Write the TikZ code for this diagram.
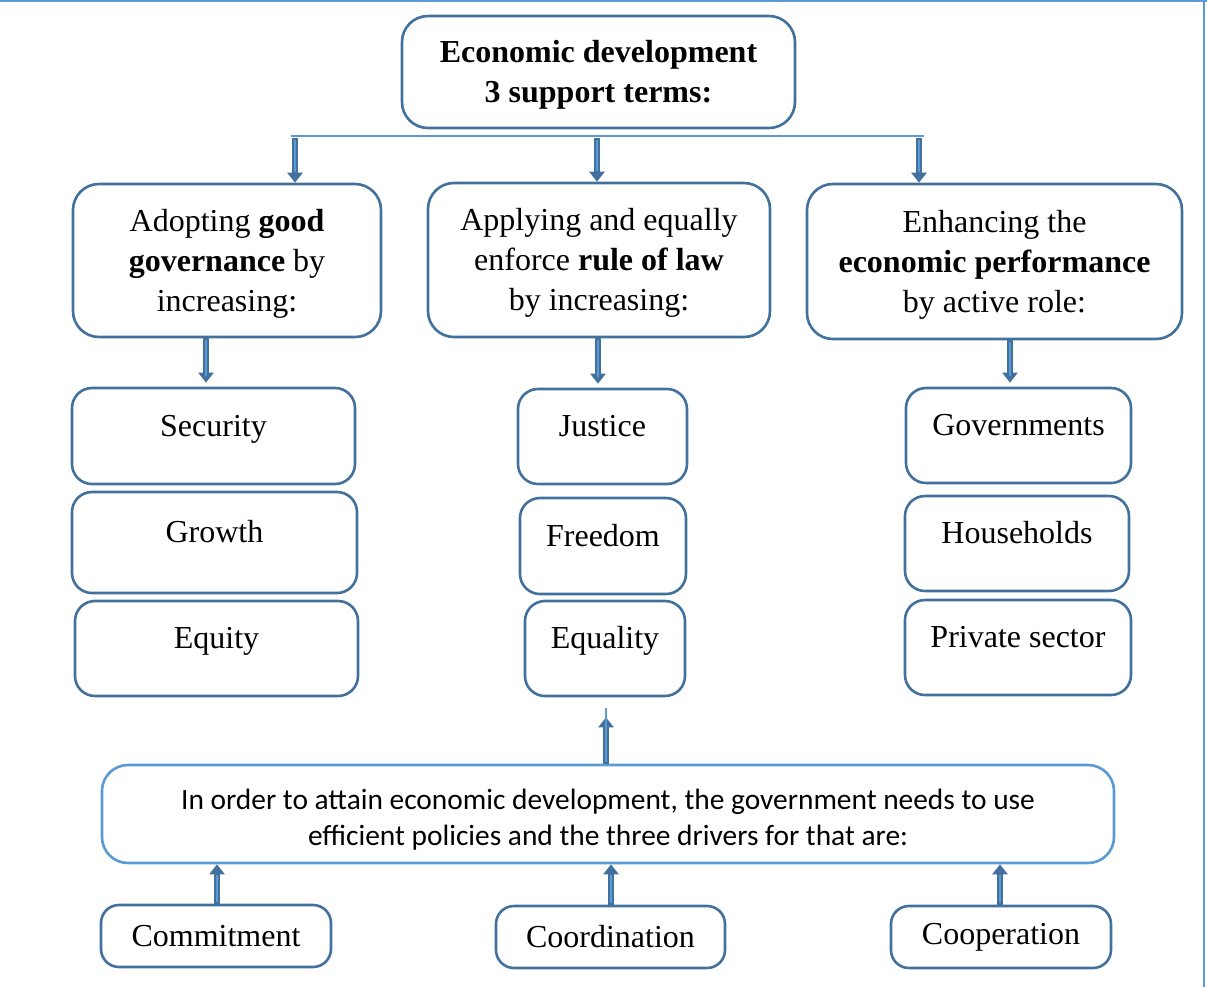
\documentclass[tikz,border=0pt]{standalone}
\usepackage{fontspec}
\setmainfont{Liberation Serif}[BoldFont={Liberation Serif Bold},ItalicFont={Liberation Serif Italic}]
\newfontfamily\driverfont{Carlito}
\usetikzlibrary{arrows.meta}
\definecolor{boxline}{RGB}{65,113,156}
\definecolor{lightline}{RGB}{91,155,213}
\tikzset{
  box/.style={draw=boxline, line width=1.3pt, rounded corners=13pt, align=center,
    font=\fontsize{16}{20}\selectfont, inner sep=0pt},
  leaf/.style={box, rounded corners=10pt, text height=11pt, text depth=11pt},
  driver/.style={box, rounded corners=9pt, minimum height=31pt},
  busline/.style={draw=lightline, line width=1.2pt},
  pageline/.style={draw=lightline, line width=0.8pt},
  barrow/.style={draw=boxline, line width=3.2pt, -{Triangle[width=7.5pt,length=5pt]},
    postaction={draw=lightline, line width=1.2pt, -, shorten >=5.5pt, shorten <=0.8pt}}
}
\begin{document}
\begin{tikzpicture}[x=0.5pt,y=-0.5pt]
\useasboundingbox (0,0) rectangle (1207,987);
\draw[pageline] (0,1) -- (1207,1);
\draw[pageline] (1204,0) -- (1204,987);

% top
\node[box, font=\fontsize{16}{20}\selectfont\bfseries, minimum width=196.5pt, minimum height=56pt]
  (top) at (598.5,72) {\rule{0pt}{14pt}Economic development\\3 support terms:};
\coordinate (busL) at (291,136);
\coordinate (busR) at (924,136);
\draw[busline] (busL) -- (busR);

% three terms
\node[box, minimum width=154pt, minimum height=76.5pt] (gov) at (227,260.5)
  {\rule{0pt}{14pt}Adopting \textbf{good}\\\textbf{governance} by\\increasing:};
\node[box, minimum width=171pt, minimum height=77pt] (law) at (599,260)
  {\rule{0pt}{14pt}Applying and equally\\enforce \textbf{rule of law}\\by increasing:};
\node[box, minimum width=187.5pt, minimum height=77.5pt] (eco) at (994.5,261.5)
  {\rule{0pt}{14pt}Enhancing the\\\textbf{economic performance}\\by active role:};

\coordinate (tg) at (295,138);
\coordinate (tl) at (597,138);
\coordinate (te) at (919,138);
\draw[barrow] (tg) -- (tg |- gov.north);
\draw[barrow] (tl) -- (tl |- law.north);
\draw[barrow] (te) -- (te |- eco.north);

% increasing
\node[leaf, minimum width=141.5pt, minimum height=48pt] (sec) at (213.5,436) {Security};
\node[leaf, minimum width=142.5pt, minimum height=50.5pt] (gro) at (214.5,542.5) {Growth};
\node[leaf, minimum width=141.5pt, minimum height=47.5pt] (equ) at (216.5,648.5) {Equity};
\node[leaf, minimum width=84.5pt, minimum height=47.5pt] (jus) at (602.5,436.5) {Justice};
\node[leaf, minimum width=83pt, minimum height=48pt] (fre) at (603,546) {Freedom};
\node[leaf, minimum width=80pt, minimum height=47.5pt] (eqa) at (605,648.5) {Equality};
\node[leaf, minimum width=112.5pt, minimum height=47.5pt] (gvt) at (1018.5,435.5) {Governments};
\node[leaf, minimum width=112pt, minimum height=47.5pt] (hou) at (1017,543.5) {Households};
\node[leaf, minimum width=113pt, minimum height=47.5pt] (pri) at (1018,647.5) {Private sector};

\coordinate (mg) at (206,340);
\coordinate (ml) at (598,340);
\coordinate (me) at (1010,342);
\draw[barrow, shorten >=2pt] (mg |- gov.south) -- (mg |- sec.north);
\draw[barrow, shorten >=2pt] (ml |- law.south) -- (ml |- jus.north);
\draw[barrow, shorten >=2pt] (me |- eco.south) -- (me |- gvt.north);

% drivers
\node[box, draw=lightline, font=\driverfont\fontsize{14.7}{18}\selectfont,
  minimum width=506pt, minimum height=49pt] (aim) at (608,814)
  {\rule{0pt}{16pt}In order to attain economic development, the government needs to use\\efficient policies and the three drivers for that are:};
\node[driver, minimum width=115pt] (com) at (216,936) {Commitment};
\node[driver, minimum width=114.5pt] (coo) at (610.5,937) {Coordination};
\node[driver, minimum width=110pt] (cop) at (1001,937) {Cooperation};

\coordinate (up) at (606,718);
\draw[barrow, shorten >=10pt] (up |- aim.north) -- (up |- eqa.south);
\coordinate (dc) at (217,0);
\coordinate (dk) at (611,0);
\coordinate (dp) at (1000,0);
\draw[barrow] (dc |- com.north) -- (dc |- aim.south);
\draw[barrow] (dk |- coo.north) -- (dk |- aim.south);
\draw[barrow] (dp |- cop.north) -- (dp |- aim.south);
\end{tikzpicture}
\end{document}
